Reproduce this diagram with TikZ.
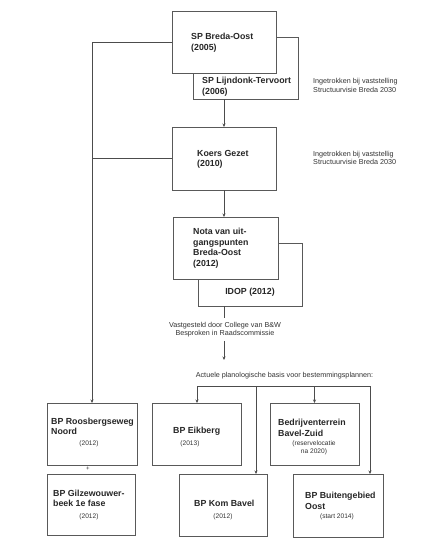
\documentclass[tikz,border=0pt]{standalone}
\usepackage{fontspec}
\setmainfont{Liberation Sans}
\usetikzlibrary{arrows.meta}
\begin{document}
\begin{tikzpicture}[x=1pt,y=-1pt,
 box/.style={draw=black!65, line width=0.8pt, fill=white, inner sep=0pt, outer sep=0pt, anchor=north west},
 ttl/.style={font=\fontsize{8.8}{10.5}\selectfont\bfseries, text=black!85, align=left, anchor=west, inner sep=0pt},
 sml/.style={font=\fontsize{7.2}{8.6}\selectfont, text=black!80, align=left, anchor=west, inner sep=0pt},
 yr/.style={font=\fontsize{6.6}{8}\selectfont, text=black!80, align=center, inner sep=0pt},
 ln/.style={draw=black!70, line width=0.8pt},
 arr/.style={ln, -{Stealth[length=3.5pt,width=3pt]}}]
\useasboundingbox[fill=white] (0,0) rectangle (446,550);

% boxes (back ones first)
\node[box, minimum width=105pt, minimum height=62pt] (lt) at (193,37) {};
\node[box, minimum width=104pt, minimum height=62pt] (bo) at (172,11) {};
\node[box, minimum width=104pt, minimum height=63pt] (ko) at (172,127) {};
\node[box, minimum width=104pt, minimum height=63pt] (id) at (198,243) {};
\node[box, minimum width=105pt, minimum height=62pt] (no) at (173,217) {};
\node[box, minimum width=90pt, minimum height=62pt] (rb) at (47,403) {};
\node[box, minimum width=88pt, minimum height=61pt] (gz) at (47,474) {};
\node[box, minimum width=89pt, minimum height=62pt] (ei) at (152,403) {};
\node[box, minimum width=88pt, minimum height=62pt] (kb) at (179,474) {};
\node[box, minimum width=89pt, minimum height=62pt] (bz) at (270,403) {};
\node[box, minimum width=90pt, minimum height=63pt] (bg) at (293,474) {};

% titles
\node[ttl] (bot) at (191,42.5) {SP Breda-Oost\\(2005)};
\node[ttl] (ltt) at (202,86.5) {SP Lijndonk-Tervoort\\(2006)};
\node[ttl] (kot) at (197,159.5) {Koers Gezet\\(2010)};
\node[ttl] (not) at (193,248) {Nota van uit-\\gangspunten\\Breda-Oost\\(2012)};
\node[ttl, anchor=center] (idt) at (250,292) {IDOP (2012)};
\node[ttl] (rbt) at (51,426.5) {BP Roosbergseweg\\Noord};
\node[yr] (rby) at (89,444) {(2012)};
\node[ttl] (gzt) at (53,498.5) {BP Gilzewouwer-\\beek 1e fase};
\node[yr] (gzy) at (89,517) {(2012)};
\node[ttl] (eit) at (173,431) {BP Eikberg};
\node[yr] (eiy) at (190,444) {(2013)};
\node[ttl] (kbt) at (194,503) {BP Kom Bavel};
\node[yr] (kby) at (223,517) {(2012)};
\node[ttl] (bzt) at (278,428) {Bedrijventerrein\\Bavel-Zuid};
\node[yr] (bzy) at (314,448) {(reservelocatie\\na 2020)};
\node[ttl] (bgt) at (305,501) {BP Buitengebied\\Oost};
\node[yr] (bgy) at (337,517) {(start 2014)};
\node[yr, font=\fontsize{6}{7}\selectfont] (plus) at (88,469) {+};

% side notes
\node[sml] (n1) at (313,85.5) {Ingetrokken bij vaststelling\\Structuurvisie Breda 2030};
\node[sml] (n2) at (313,158) {Ingetrokken bij vaststellig\\Structuurvisie Breda 2030};
\node[sml, align=center, anchor=center, inner sep=3.5pt] (vg) at (225,329.5) {Vastgesteld door College van B\&W\\Besproken in Raadscommissie};
\node[sml, anchor=center] (ac) at (284.5,376) {Actuele planologische basis voor bestemmingsplannen:};

% connectors
\draw[arr] (bo.west) -| (rb.north);
\draw[ln] (ko.west) -- (ko.west -| rb.north);
\draw[arr] (ko.north |- lt.south) -- (ko.north);
\draw[arr] (ko.south) -- (ko.south |- no.north);
\draw[ln] (ko.south |- id.south) -- (ko.south |- vg.north);
\coordinate (ae) at (224,360);
\draw[arr] (ko.south |- vg.south) -- (ae);

\coordinate (bl) at (197,386);
\coordinate (bk) at (256,386);
\coordinate (bb) at (314.5,386);
\coordinate (br) at (370,386);
\draw[ln] (bl) -- (br);
\draw[arr] (bl) -- (bl |- ei.north);
\draw[arr] (bk) -- (bk |- kb.north);
\draw[arr] (bb) -- (bb |- bz.north);
\draw[arr] (br) -- (br |- bg.north);
\end{tikzpicture}
\end{document}
